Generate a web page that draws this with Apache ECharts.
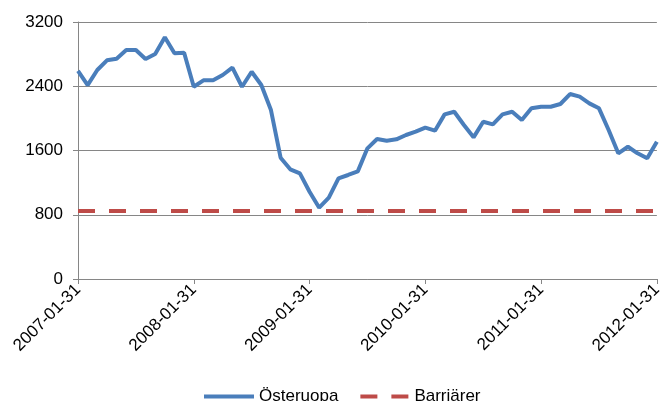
<!DOCTYPE html>
<html>
<head>
<meta charset="utf-8">
<script src="https://cdn.jsdelivr.net/npm/echarts@6/dist/echarts.min.js"></script>
<style>html,body{margin:0;padding:0;background:#fff}#c{width:665px;height:401px}</style>
</head>
<body>
<div id="c"></div>
<script>
var categories = [
'2007-01-31','2007-02-28','2007-03-31','2007-04-30','2007-05-31','2007-06-30','2007-07-31','2007-08-31','2007-09-30','2007-10-31','2007-11-30','2007-12-31',
'2008-01-31','2008-02-29','2008-03-31','2008-04-30','2008-05-31','2008-06-30','2008-07-31','2008-08-31','2008-09-30','2008-10-31','2008-11-30','2008-12-31',
'2009-01-31','2009-02-28','2009-03-31','2009-04-30','2009-05-31','2009-06-30','2009-07-31','2009-08-31','2009-09-30','2009-10-31','2009-11-30','2009-12-31',
'2010-01-31','2010-02-28','2010-03-31','2010-04-30','2010-05-31','2010-06-30','2010-07-31','2010-08-31','2010-09-30','2010-10-31','2010-11-30','2010-12-31',
'2011-01-31','2011-02-28','2011-03-31','2011-04-30','2011-05-31','2011-06-30','2011-07-31','2011-08-31','2011-09-30','2011-10-31','2011-11-30','2011-12-31',
'2012-01-31'];
var osteuropa = [
2590,2415,2602,2723,2743,2851,2851,2739,2801,3009,2810,2818,
2394,2474,2474,2540,2631,2394,2581,2415,2104,1510,1366,1316,
1087,888,1012,1253,1295,1340,1627,1743,1722,1739,1793,1834,
1884,1847,2050,2083,1917,1764,1958,1926,2050,2083,1980,2125,
2145,2145,2179,2303,2270,2187,2125,1855,1565,1647,1565,1503,
1709];
var barriarer = categories.map(function(){return 848;});
var yTicks = {min:0, max:3200, interval:800};

var chart = echarts.init(document.getElementById('c'));
chart.setOption({
  animation:false,
  textStyle:{fontFamily:'Liberation Sans, Arial, sans-serif'},
  grid:{left:78, right:3, top:22, bottom:122, containLabel:false},
  legend:{
    bottom:-9, left:199,
    itemWidth:50, itemHeight:4, itemGap:22,
    textStyle:{fontSize:17, color:'#000', fontFamily:'Liberation Sans, Arial, sans-serif'},
    data:[
      {name:'Österuopa', icon:'path://M0,0 L50,0 L50,4 L0,4 Z'},
      {name:'Barriärer', icon:'path://M0,0 L17,0 L17,4 L0,4 Z M31,0 L48,0 L48,4 L31,4 Z'}
    ]
  },
  xAxis:{
    type:'category', data:categories, boundaryGap:false,
    axisLine:{lineStyle:{color:'#868686', width:1}},
    axisTick:{interval:11, length:5, lineStyle:{color:'#868686'}},
    axisLabel:{interval:11, rotate:45, fontSize:17, color:'#000', margin:8},
    splitLine:{show:false}
  },
  yAxis:{
    type:'value', min:yTicks.min, max:yTicks.max, interval:yTicks.interval,
    axisLine:{show:true, lineStyle:{color:'#868686'}},
    axisTick:{show:true, length:5, lineStyle:{color:'#868686'}},
    axisLabel:{fontSize:17, color:'#000', margin:15, formatter:function(v){return String(v);}},
    splitLine:{lineStyle:{color:'#868686', width:1}}
  },
  series:[
    {name:'Österuopa', type:'line', data:osteuropa, symbol:'none',
     lineStyle:{color:'#4a7ebb', width:4}, itemStyle:{color:'#4a7ebb'}},
    {name:'Barriärer', type:'line', data:barriarer, symbol:'none',
     lineStyle:{color:'#be4b48', width:4, type:[17,14]}, itemStyle:{color:'#be4b48'}}
  ]
});
</script>
</body>
</html>
